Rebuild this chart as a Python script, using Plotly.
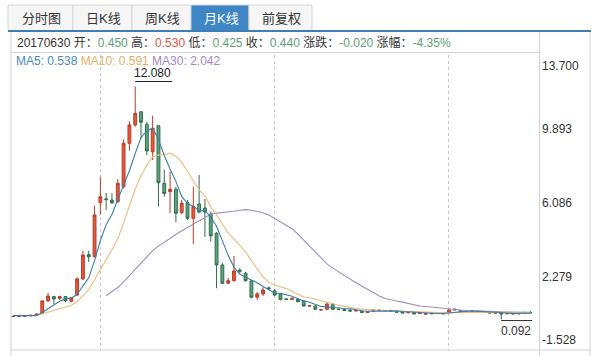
import plotly.graph_objects as go

# ---------------- data ----------------
months = [f"{2010 + k // 12}/{k % 12 + 1:02d}" for k in range(90)]

opens = [0.24, 0.25, 0.26, 0.28, 0.31, 0.43, 1.05, 1.27, 1.18, 1.27,
         1.03, 1.35, 2.18, 3.43, 3.32, 6.10, 6.30, 6.24, 6.15, 6.92,
         9.16, 10.10, 10.78, 10.13, 8.72, 10.06, 7.10, 6.67, 6.79, 5.59,
         6.10, 5.30, 6.03, 5.83, 5.52, 4.53, 2.90, 1.96, 2.09, 2.63,
         2.47, 2.07, 1.24, 1.41, 1.72, 1.57, 1.39, 1.15, 1.13, 1.13,
         1.05, 0.78, 0.79, 0.58, 0.62, 0.87, 0.63, 0.61, 0.58, 0.53,
         0.52, 0.45, 0.52, 0.58, 0.55, 0.53, 0.52, 0.49, 0.44, 0.46,
         0.40, 0.36, 0.42, 0.40, 0.42, 0.44, 0.58, 0.55, 0.52, 0.50,
         0.49, 0.45, 0.48, 0.42, 0.42, 0.39, 0.40, 0.38, 0.40, 0.45]
highs = [0.27, 0.28, 0.30, 0.33, 0.40, 1.05, 1.47, 1.30, 1.32, 1.30,
         1.25, 2.26, 3.63, 3.63, 5.95, 7.41, 6.60, 6.59, 7.31, 9.36,
         10.30, 12.08, 10.82, 10.27, 10.58, 10.06, 7.80, 7.70, 6.92, 6.24,
         6.24, 6.92, 7.53, 6.29, 5.64, 4.59, 3.00, 2.23, 3.36, 2.74,
         2.55, 2.12, 1.52, 1.75, 1.79, 1.65, 1.41, 1.18, 1.22, 1.18,
         1.07, 0.84, 0.81, 0.62, 0.99, 0.93, 0.66, 0.64, 0.60, 0.59,
         0.54, 0.51, 0.60, 0.60, 0.58, 0.60, 0.55, 0.50, 0.48, 0.47,
         0.44, 0.42, 0.43, 0.43, 0.43, 0.67, 0.66, 0.57, 0.54, 0.53,
         0.51, 0.50, 0.49, 0.46, 0.44, 0.42, 0.41, 0.42, 0.48, 0.53]
lows = [0.22, 0.23, 0.24, 0.26, 0.29, 0.40, 1.00, 0.89, 1.10, 0.98,
        0.98, 1.32, 2.12, 3.05, 3.29, 5.47, 5.73, 6.03, 6.10, 6.84,
        8.78, 10.01, 9.40, 8.55, 8.30, 5.90, 6.41, 5.56, 5.09, 5.52,
        5.21, 3.98, 5.56, 4.34, 4.10, 1.70, 1.92, 1.92, 2.04, 2.47,
        2.04, 1.18, 1.10, 1.30, 1.63, 1.30, 1.08, 1.10, 1.10, 0.98,
        0.76, 0.76, 0.60, 0.55, 0.60, 0.58, 0.59, 0.54, 0.51, 0.51,
        0.43, 0.43, 0.50, 0.53, 0.52, 0.50, 0.45, 0.41, 0.42, 0.36,
        0.37, 0.34, 0.37, 0.38, 0.37, 0.40, 0.55, 0.46, 0.48, 0.47,
        0.44, 0.44, 0.41, 0.40, 0.092, 0.35, 0.36, 0.36, 0.39, 0.425]
closes = [0.25, 0.26, 0.28, 0.31, 0.37, 1.05, 1.30, 1.15, 1.27, 1.06,
          1.21, 2.18, 3.41, 3.32, 5.47, 6.41, 6.26, 6.10, 7.10, 9.16,
          10.10, 10.70, 10.24, 8.76, 9.93, 7.13, 6.58, 6.79, 5.56, 6.07,
          5.30, 5.90, 5.62, 5.62, 4.40, 2.90, 1.96, 2.09, 2.59, 2.58,
          2.09, 1.24, 1.41, 1.61, 1.68, 1.35, 1.13, 1.13, 1.18, 1.01,
          0.79, 0.81, 0.62, 0.60, 0.89, 0.62, 0.61, 0.56, 0.53, 0.56,
          0.45, 0.49, 0.58, 0.55, 0.54, 0.54, 0.47, 0.43, 0.46, 0.38,
          0.41, 0.40, 0.39, 0.41, 0.39, 0.58, 0.62, 0.48, 0.50, 0.50,
          0.46, 0.48, 0.43, 0.44, 0.38, 0.40, 0.38, 0.40, 0.46, 0.44]

ma5 = [0.29, 0.282, 0.278, 0.28, 0.294, 0.454, 0.662, 0.836, 1.028, 1.166,
       1.198, 1.374, 1.826, 2.236, 3.118, 4.158, 4.974, 5.512, 6.268, 7.006,
       7.744, 8.632, 9.46, 9.792, 9.946, 9.352, 8.528, 7.838, 7.198, 6.426,
       6.06, 5.924, 5.69, 5.702, 5.368, 4.888, 4.10, 3.394, 2.788, 2.424,
       2.262, 2.118, 1.982, 1.786, 1.606, 1.458, 1.436, 1.38, 1.294, 1.16,
       1.048, 0.984, 0.882, 0.766, 0.742, 0.708, 0.668, 0.656, 0.642, 0.576,
       0.542, 0.518, 0.522, 0.526, 0.522, 0.54, 0.536, 0.506, 0.488, 0.456,
       0.43, 0.416, 0.408, 0.398, 0.40, 0.434, 0.478, 0.496, 0.514, 0.536,
       0.512, 0.484, 0.474, 0.462, 0.438, 0.426, 0.406, 0.40, 0.404, 0.416]
ma10 = [0.295, 0.291, 0.289, 0.29, 0.297, 0.372, 0.472, 0.557, 0.654, 0.73,
        0.826, 1.018, 1.331, 1.632, 2.142, 2.678, 3.174, 3.669, 4.252, 5.062,
        5.951, 6.803, 7.486, 8.03, 8.476, 8.548, 8.58, 8.649, 8.495, 8.186,
        7.706, 7.226, 6.764, 6.45, 5.897, 5.474, 5.012, 4.542, 4.245, 3.896,
        3.575, 3.109, 2.688, 2.287, 2.015, 1.86, 1.777, 1.681, 1.54, 1.383,
        1.253, 1.21, 1.131, 1.03, 0.951, 0.878, 0.826, 0.769, 0.704, 0.659,
        0.625, 0.593, 0.589, 0.584, 0.549, 0.541, 0.527, 0.514, 0.507, 0.489,
        0.485, 0.476, 0.457, 0.443, 0.428, 0.432, 0.447, 0.452, 0.456, 0.468,
        0.473, 0.481, 0.485, 0.488, 0.487, 0.469, 0.445, 0.437, 0.433, 0.427]
ma30 = [None] * 16 + [
        1.315, 1.509, 1.735, 2.031, 2.357, 2.704, 3.035, 3.317, 3.638, 3.866,
        4.075, 4.292, 4.467, 4.659,
        4.828, 5.016, 5.194, 5.371, 5.505, 5.567, 5.589, 5.62, 5.664, 5.715,
        5.744, 5.713, 5.646, 5.589, 5.463, 5.294, 5.123, 4.957, 4.76, 4.488,
        4.178, 3.848, 3.528, 3.256, 2.954, 2.737, 2.538, 2.331, 2.163, 1.979,
        1.818, 1.637, 1.469, 1.30, 1.172, 1.093, 1.043, 0.988, 0.917, 0.844,
        0.788, 0.76, 0.726, 0.686, 0.643, 0.617, 0.60, 0.578, 0.556, 0.539,
        0.528, 0.517, 0.51, 0.505, 0.488, 0.481, 0.473, 0.468, 0.465, 0.461]

y_ticks = [13.700, 9.893, 6.086, 2.279, -1.528]
y_tick_labels = ["13.700", "9.893", "6.086", "2.279", "-1.528"]
grid_months = [months[15], months[45], months[75]]

tabs = ["分时图", "日K线", "周K线", "月K线", "前复权"]
active_tab = "月K线"

info_date = "20170630"
info_vals = [("开", "0.450", "g"), ("高", "0.530", "r"), ("低", "0.425", "g"),
             ("收", "0.440", "g"), ("涨跌", "-0.020", "g"), ("涨幅", "-4.35%", "g")]
ma_labels = [("MA5", "0.538"), ("MA10", "0.591"), ("MA30", "2.042")]

# ---------------- layout helpers ----------------
W, H = 593, 356
L, R, T, B = 11, 54, 55, 5
PW, PH = W - L - R, H - T - B


def px(x):
    return (x - L) / PW


def py(y):
    return (H - B - y) / PH


FONT = "Liberation Sans, Arial, Noto Sans CJK SC, sans-serif"
RED_F, RED_L = "#e8563d", "#b23f2a"
GRN_F, GRN_L = "#5ea57c", "#2f6c4b"
C_MA5, C_MA10, C_MA30 = "#3d7ea8", "#ebbd7b", "#a58bc2"
TXT_G, TXT_R = "#5c9e78", "#dd5646"

fig = go.Figure()
fig.add_trace(go.Candlestick(
    x=months, open=opens, high=highs, low=lows, close=closes,
    increasing=dict(fillcolor=RED_F, line=dict(color=RED_L, width=1)),
    decreasing=dict(fillcolor=GRN_F, line=dict(color=GRN_L, width=1)),
    whiskerwidth=0, hoverinfo="skip", showlegend=False))
for ser, col in [(ma30, C_MA30), (ma10, C_MA10), (ma5, C_MA5)]:
    fig.add_trace(go.Scatter(x=months, y=ser, mode="lines",
                             line=dict(color=col, width=1.1),
                             hoverinfo="skip", showlegend=False))

shapes = []
ann = []

# tabs
tab_edges = [8, 73, 132, 191, 249, 312]
for k, name in enumerate(tabs):
    act = name == active_tab
    shapes.append(dict(type="rect", xref="paper", yref="paper",
                       x0=px(tab_edges[k]), x1=px(tab_edges[k + 1]),
                       y0=py(31), y1=py(5),
                       fillcolor="#3f86c4" if act else "#f6f6f6",
                       line=dict(color="#d6d6d6", width=1), layer="below"))
    ann.append(dict(xref="paper", yref="paper",
                    x=px((tab_edges[k] + tab_edges[k + 1]) / 2 + 1), y=py(18.5),
                    text=name, showarrow=False, xanchor="center", yanchor="middle",
                    font=dict(family=FONT, size=13, color="white" if act else "#333")))
# blue bar under tabs
shapes.append(dict(type="rect", xref="paper", yref="paper", x0=px(8), x1=px(591),
                   y0=py(32), y1=py(30), fillcolor="#3e7eb7", line=dict(width=0)))
# frame lines
frame = "#d2d2d2"
shapes += [
    dict(type="line", xref="paper", yref="paper", x0=px(11), x1=px(539.5),
         y0=py(52.5), y1=py(52.5), line=dict(color=frame, width=1)),
    dict(type="line", xref="paper", yref="paper", x0=px(11), x1=px(11),
         y0=py(32), y1=py(356), line=dict(color=frame, width=1)),
    dict(type="line", xref="paper", yref="paper", x0=px(539.5), x1=px(539.5),
         y0=py(32), y1=py(356), line=dict(color=frame, width=1)),
    dict(type="line", xref="paper", yref="paper", x0=px(590), x1=px(590),
         y0=py(32), y1=py(356), line=dict(color=frame, width=1)),
    dict(type="line", xref="paper", yref="paper", x0=px(11), x1=px(590),
         y0=py(350), y1=py(350), line=dict(color=frame, width=1)),
]

# header info line
parts = [info_date]
for lab, val, c in info_vals:
    col = TXT_R if c == "r" else TXT_G
    parts.append(f"{lab}：<span style='color:{col}'>{val}</span>")
ann.append(dict(xref="paper", yref="paper", x=px(15), y=py(42.5), text=" ".join(parts),
                showarrow=False, xanchor="left", yanchor="middle",
                font=dict(family=FONT, size=12, color="#333")))
# MA legend
ma_txt = " ".join(f"<span style='color:{c}'>{n}: {v}</span>"
                  for (n, v), c in zip(ma_labels, ["#4a8ab6", "#e6b064", "#a386c2"]))
ann.append(dict(xref="paper", yref="paper", x=px(15), y=py(61.5), text=ma_txt,
                showarrow=False, xanchor="left", yanchor="middle", borderpad=0,
                font=dict(family=FONT, size=12)))

# right axis labels
for k, (v, t) in enumerate(zip(y_ticks, y_tick_labels)):
    if k == 0:
        ya, ys = "top", -2
    elif k == len(y_ticks) - 1:
        ya, ys = "bottom", 2
    else:
        ya, ys = "middle", 0
    ann.append(dict(xref="paper", yref="y", x=1, y=v, text=t, showarrow=False,
                    xanchor="left", yanchor=ya, xshift=1, yshift=ys,
                    font=dict(family=FONT, size=12, color="#333")))

# max / min markers
imax = max(range(len(highs)), key=lambda i: highs[i])
imin = min(range(len(lows)), key=lambda i: lows[i])
ann.append(dict(xref="x", yref="y", x=months[imax], y=highs[imax],
                text=f"{highs[imax]:.3f}", showarrow=False, borderpad=0,
                xanchor="left", yanchor="bottom", xshift=-2, yshift=5,
                font=dict(family=FONT, size=12, color="#222")))
shapes.append(dict(type="line", xref="x", yref="y", xsizemode="pixel", ysizemode="pixel",
                   xanchor=months[imax], yanchor=highs[imax], x0=0, x1=37, y0=5, y1=5,
                   line=dict(color="#222", width=1)))
ann.append(dict(xref="x", yref="y", x=months[imin], y=lows[imin],
                text=f"{lows[imin]:.3f}", showarrow=False,
                xanchor="left", yanchor="top", xshift=-2, yshift=-2,
                font=dict(family=FONT, size=12, color="#333")))
shapes.append(dict(type="line", xref="x", yref="y", xsizemode="pixel", ysizemode="pixel",
                   xanchor=months[imin], yanchor=lows[imin], x0=0, x1=31, y0=-1, y1=-1,
                   line=dict(color="#333", width=1)))

fig.update_layout(
    width=W, height=H, margin=dict(l=L, r=R, t=T, b=B),
    paper_bgcolor="white", plot_bgcolor="white", showlegend=False,
    font=dict(family=FONT, size=12, color="#333"),
    xaxis=dict(type="category", range=[-0.38, 90.5], rangeslider=dict(visible=False),
               showticklabels=False, ticks="", tickvals=grid_months,
               showgrid=True, gridcolor="#c4c4c4", griddash="dot", gridwidth=1,
               showline=False, zeroline=False, fixedrange=True),
    yaxis=dict(range=[y_ticks[-1], y_ticks[0]], showticklabels=False, showgrid=False,
               zeroline=False, showline=False, fixedrange=True),
    shapes=shapes, annotations=ann, hovermode=False,
)

fig.write_html("out.html", config={"displayModeBar": False, "staticPlot": True},
               post_script="document.body.style.margin='0';")
